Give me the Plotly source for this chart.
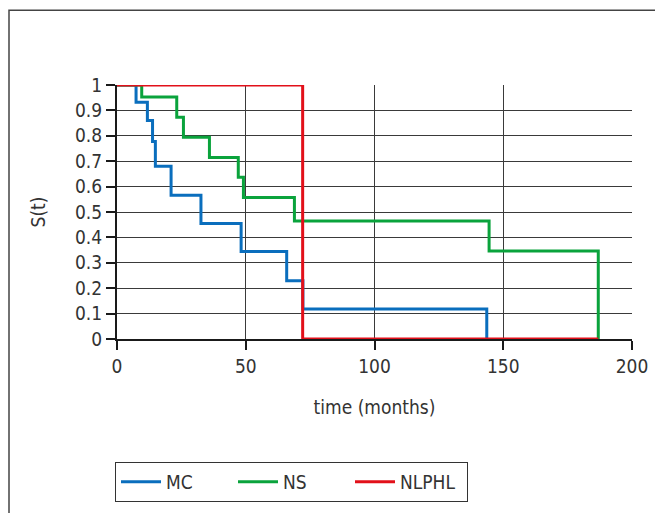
import plotly.graph_objects as go

# Data
mc_t = [0, 7.4, 11.8, 13.8, 14.9, 21.0, 32.6, 48.2, 65.9, 72.2, 143.6]
mc_s = [1, 0.932, 0.86, 0.778, 0.68, 0.566, 0.455, 0.344, 0.229, 0.118, 0]

ns_t = [0, 9.6, 23.2, 25.8, 35.9, 47.1, 49.1, 68.9, 144.5, 186.9]
ns_s = [1, 0.953, 0.873, 0.794, 0.715, 0.637, 0.557, 0.465, 0.346, 0]

nlphl_t = [0, 72.1, 186.9]
nlphl_s = [1, 0, 0]

x_ticks = [0, 50, 100, 150, 200]
y_ticks = [0, 0.1, 0.2, 0.3, 0.4, 0.5, 0.6, 0.7, 0.8, 0.9, 1]
y_tick_labels = ["0", "0.1", "0.2", "0.3", "0.4", "0.5", "0.6", "0.7", "0.8", "0.9", "1"]

FONT = "DejaVu Sans Condensed, Roboto, Arial, sans-serif"
FS = 19

fig = go.Figure()
fig.add_trace(go.Scatter(x=mc_t, y=mc_s, mode="lines", name="MC", cliponaxis=False,
                         line=dict(color="#0A6EBD", width=3, shape="hv")))
fig.add_trace(go.Scatter(x=ns_t, y=ns_s, mode="lines", name="NS", cliponaxis=False,
                         line=dict(color="#0AA33C", width=3, shape="hv")))
fig.add_trace(go.Scatter(x=nlphl_t, y=nlphl_s, mode="lines", name="NLPHL", cliponaxis=False,
                         line=dict(color="#E2101A", width=3, shape="hv")))

# page body has an 8px offset; positions below are in page pixels
OFF = 8
L, R, T, B = 117 - OFF, 31, 85 - OFF, 173
W, H = 663 - OFF, 513 - OFF
pw, ph = W - L - R, H - T - B

def px(x):
    return (x - OFF - L) / pw

def py(y):
    return (H - B - (y - OFF)) / ph

fig.update_layout(
    width=W, height=H,
    margin=dict(l=L, r=R, t=T, b=B, pad=0),
    paper_bgcolor="white", plot_bgcolor="white",
    font=dict(family=FONT, size=FS, color="#333333"),
    showlegend=True,
    legend=dict(orientation="h", x=px(115), y=py(462), xanchor="left", yanchor="top",
                bordercolor="#333333", borderwidth=1, bgcolor="white",
                font=dict(size=FS, color="#333333"), itemwidth=40,
                entrywidth=62, entrywidthmode="pixels", tracegroupgap=0),
    xaxis=dict(range=[0, 200], tickvals=x_ticks, showgrid=True, gridcolor="#3a3a3a", gridwidth=1.2,
               showline=True, linecolor="#1a1a1a", linewidth=2, ticks="outside", ticklen=9,
               tickcolor="#1a1a1a", tickwidth=2, zeroline=False,
               title=dict(text="time (months)", standoff=25, font=dict(size=FS)),
               tickfont=dict(size=FS)),
    yaxis=dict(range=[0, 1], tickvals=y_ticks, ticktext=y_tick_labels, showgrid=True,
               gridcolor="#3a3a3a", gridwidth=1.2,
               showline=True, linecolor="#1a1a1a", linewidth=2, ticks="outside", ticklen=9,
               tickcolor="#1a1a1a", tickwidth=2, zeroline=False,
               title=dict(text="S(t)", standoff=24, font=dict(size=FS)),
               tickfont=dict(size=FS)),
    shapes=[dict(type="rect", xref="paper", yref="paper",
                 x0=px(9), x1=px(690), y0=py(540), y1=py(10),
                 line=dict(color="#444444", width=1.5), fillcolor="rgba(0,0,0,0)", layer="below")],
)

fig.write_html("out.html")
